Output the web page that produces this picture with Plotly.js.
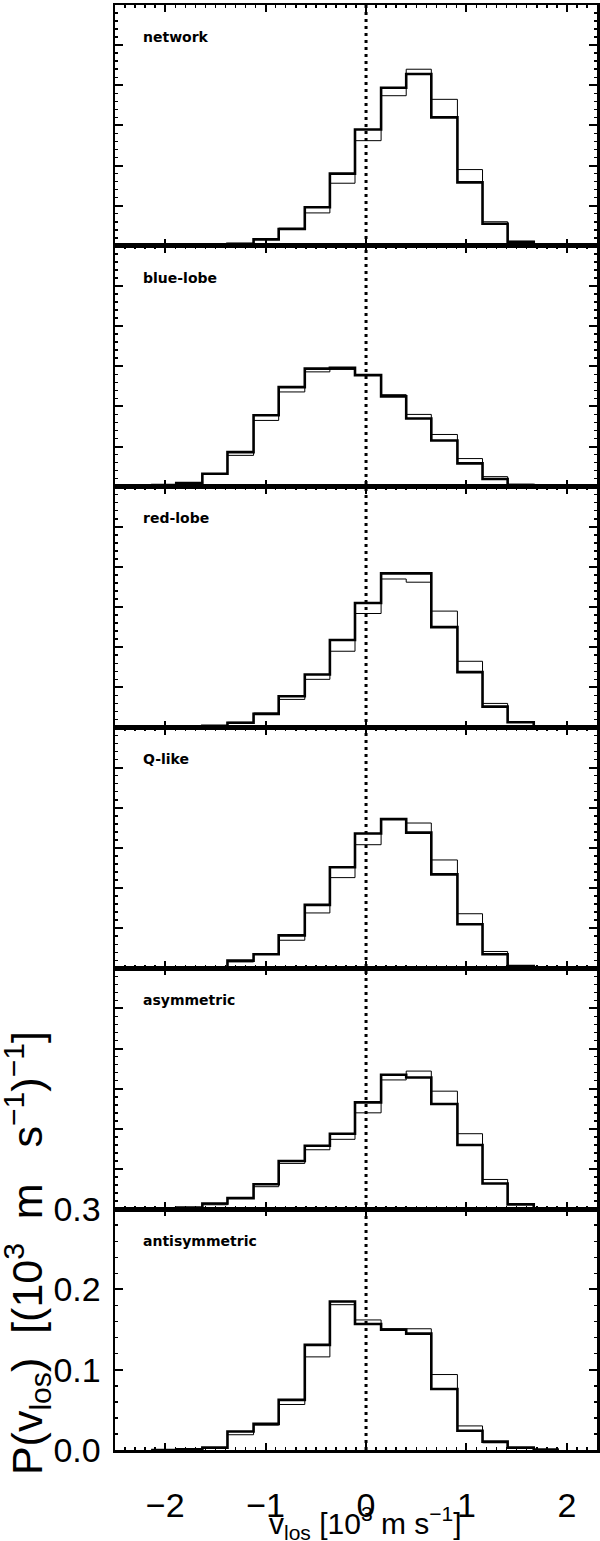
<!DOCTYPE html>
<html>
<head>
<meta charset="utf-8">
<script src="https://cdn.plot.ly/plotly-3.0.1.min.js"></script>
<style>
  html, body { margin: 0; padding: 0; background: #ffffff; }
  #chart { width: 600px; height: 1541px; }
</style>
</head>
<body>
<div id="chart"></div>
<script>
// velocity bins (10^3 m/s), 16 bins -> 17 edges
const binEdges = [-2.14, -1.89, -1.63, -1.38, -1.12, -0.87, -0.61, -0.36, -0.11,
                  0.15, 0.40, 0.65, 0.91, 1.16, 1.41, 1.67, 1.92];

const panelNames = ["network", "blue-lobe", "red-lobe", "Q-like", "asymmetric", "antisymmetric"];

// P(v_los), thick histogram per panel
const networkThick  = [0, 0.0003, 0.001, 0.0025, 0.008, 0.021, 0.048, 0.090, 0.145, 0.197, 0.214, 0.160, 0.079, 0.0275, 0.005, 0.001];
const blueThick     = [0.002, 0.0046, 0.016, 0.043, 0.089, 0.124, 0.147, 0.148, 0.139, 0.1125, 0.085, 0.0575, 0.029, 0.0096, 0.002, 0.0005];
const redThick      = [0, 0.0005, 0.002, 0.006, 0.017, 0.039, 0.066, 0.109, 0.155, 0.192, 0.192, 0.125, 0.069, 0.026, 0.0065, 0.0013];
const qlikeThick    = [0, 0.0003, 0.001, 0.0096, 0.0175, 0.041, 0.079, 0.126, 0.168, 0.186, 0.169, 0.117, 0.055, 0.0175, 0.003, 0.0008];
const asymThick     = [0, 0.002, 0.007, 0.0138, 0.031, 0.060, 0.079, 0.094, 0.133, 0.1675, 0.164, 0.131, 0.080, 0.032, 0.006, 0.0008];
const antisymThick  = [0, 0.0008, 0.003, 0.023, 0.0325, 0.0625, 0.131, 0.185, 0.157, 0.150, 0.145, 0.076, 0.024, 0.0104, 0.003, 0.0005];

// P(v_los), thin histogram per panel
const networkThin   = [0, 0.0003, 0.001, 0.003, 0.009, 0.022, 0.041, 0.078, 0.131, 0.187, 0.220, 0.1825, 0.095, 0.030, 0.0055, 0.001];
const blueThin      = [0.0015, 0.004, 0.0155, 0.039, 0.0825, 0.118, 0.143, 0.146, 0.139, 0.1146, 0.090, 0.065, 0.035, 0.0125, 0.003, 0.0006];
const redThin       = [0, 0.0005, 0.002, 0.0065, 0.018, 0.035, 0.060, 0.095, 0.142, 0.185, 0.181, 0.145, 0.0825, 0.030, 0.007, 0.0015];
const qlikeThin     = [0, 0.0003, 0.001, 0.008, 0.0175, 0.035, 0.069, 0.113, 0.154, 0.185, 0.181, 0.135, 0.068, 0.021, 0.0035, 0.001];
const asymThin      = [0, 0.0015, 0.0055, 0.0138, 0.028, 0.057, 0.074, 0.087, 0.120, 0.161, 0.172, 0.147, 0.094, 0.037, 0.007, 0.001];
const antisymThin   = [0, 0.0005, 0.0025, 0.019, 0.031, 0.0567, 0.116, 0.181, 0.162, 0.151, 0.151, 0.094, 0.030, 0.009, 0.003, 0.0005];

const thickSets = [networkThick, blueThick, redThick, qlikeThick, asymThick, antisymThick];
const thinSets  = [networkThin, blueThin, redThin, qlikeThin, asymThin, antisymThin];

const xRange = [-2.5, 2.3];
const yRange = [0, 0.3];
const nPanels = panelNames.length;
const tickFont = { family: "Liberation Sans, Arial, sans-serif", size: 34, color: "#000" };

// step line through the bin edges (last value repeated to close the final bin)
function stepTrace(vals, idx, width) {
  const suffix = idx === 0 ? "" : String(idx + 1);
  return {
    x: binEdges,
    y: vals.concat([vals[vals.length - 1]]),
    xaxis: "x" + suffix,
    yaxis: "y" + suffix,
    mode: "lines",
    line: { shape: "hv", color: "#000", width: width },
    hoverinfo: "skip",
    showlegend: false
  };
}

const traces = [];
const layout = {
  width: 600,
  height: 1541,
  margin: { t: 5, r: 3, b: 91, l: 115 },
  paper_bgcolor: "#fff",
  plot_bgcolor: "#fff",
  showlegend: false,
  annotations: [],
  shapes: []
};

for (let i = 0; i < nPanels; i++) {
  traces.push(stepTrace(thinSets[i], i, 1));
  traces.push(stepTrace(thickSets[i], i, 2.6));

  const suffix = i === 0 ? "" : String(i + 1);
  const isBottom = i === nPanels - 1;
  layout["xaxis" + suffix] = {
    domain: [0, 1],
    anchor: "y" + suffix,
    range: xRange,
    showgrid: false,
    zeroline: false,
    showline: true,
    linewidth: 2.5,
    linecolor: "#000",
    mirror: "ticks",
    ticks: "inside",
    ticklen: 7,
    tickwidth: 2,
    tickcolor: "#000",
    dtick: 1,
    tick0: 0,
    minor: { dtick: 0.1, ticks: "inside", ticklen: 3, tickwidth: 1.5, tickcolor: "#000", showgrid: false },
    showticklabels: isBottom,
    tickfont: tickFont,
    ticklabelstandoff: 24
  };
  layout["yaxis" + suffix] = {
    domain: [(nPanels - 1 - i) / nPanels, (nPanels - i) / nPanels],
    anchor: "x" + suffix,
    range: yRange,
    showgrid: false,
    zeroline: false,
    showline: true,
    linewidth: 2.5,
    linecolor: "#000",
    mirror: "ticks",
    ticks: "inside",
    ticklen: 8,
    tickwidth: 2,
    tickcolor: "#000",
    dtick: isBottom ? 0.1 : 0.05,
    tick0: 0,
    tickformat: ".1f",
    minor: { dtick: isBottom ? 0.02 : 0.01, ticks: "inside", ticklen: 3, tickwidth: 1.5, tickcolor: "#000", showgrid: false },
    showticklabels: isBottom,
    tickfont: tickFont,
    ticklabelstandoff: 5
  };

  // panel label
  layout.annotations.push({
    text: panelNames[i],
    xref: "x" + suffix,
    yref: "y" + suffix + " domain",
    x: -2.24,
    y: 0.868,
    xanchor: "left",
    yanchor: "middle",
    showarrow: false,
    font: { family: "DejaVu Sans, sans-serif", size: 14, color: "#000", weight: "bold" }
  });
}

// dotted zero-velocity line through all panels
layout.shapes.push({
  type: "line",
  xref: "x",
  yref: "paper",
  x0: 0, x1: 0, y0: 0, y1: 1,
  line: { color: "#000", width: 3, dash: "3px,4px" },
  layer: "above"
});

// axis titles
layout.annotations.push({
  text: "v<sub>los</sub> [10<sup>3</sup> m s<sup>−1</sup>]",
  xref: "paper", yref: "paper",
  x: 0.519, y: 0,
  yshift: -73,
  xanchor: "center", yanchor: "middle",
  showarrow: false,
  font: { family: "Liberation Sans, Arial, sans-serif", size: 30, color: "#000" }
});
layout.annotations.push({
  text: "P(v<sub>los</sub>)&nbsp;&nbsp;[(10<sup>3</sup>&nbsp;&nbsp;m&nbsp;&nbsp;&nbsp;s<sup>−1</sup>)<sup>−1</sup>]",
  xref: "paper", yref: "paper",
  x: -0.184, y: 0.1365,
  xanchor: "center", yanchor: "middle",
  textangle: -90,
  showarrow: false,
  font: { family: "Liberation Sans, Arial, sans-serif", size: 43, color: "#000" }
});

Plotly.newPlot("chart", traces, layout, { staticPlot: true, displayModeBar: false });
</script>
</body>
</html>
